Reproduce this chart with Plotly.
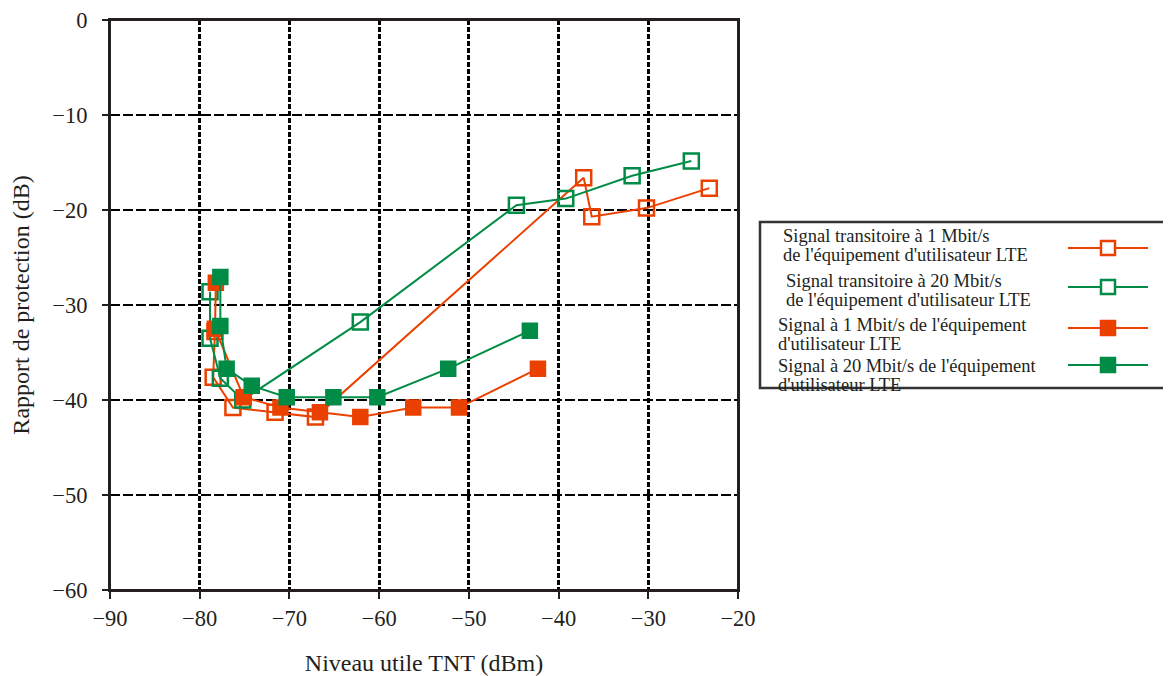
import plotly.graph_objects as go

# ---------------- data ----------------
x_trans_1 = [-78.3, -78.5, -76.3, -71.6, -67.1, -37.2, -36.3, -30.2, -23.2]
y_trans_1 = [-32.8, -37.6, -40.8, -41.3, -41.8, -16.6, -20.7, -19.8, -17.7]

x_trans_20 = [-78.85, -78.85, -77.7, -75.2, -62.1, -44.7, -39.2, -31.8, -25.2]
y_trans_20 = [-28.6, -33.5, -37.7, -40.0, -31.8, -19.5, -18.8, -16.4, -14.85]

x_sig_1 = [-78.2, -78.3, -75.1, -71.0, -66.6, -62.1, -56.2, -51.1, -42.3]
y_sig_1 = [-27.65, -32.5, -39.7, -40.8, -41.3, -41.8, -40.8, -40.8, -36.7]

x_sig_20 = [-77.7, -77.7, -77.0, -74.2, -70.3, -65.1, -60.2, -52.3, -43.2]
y_sig_20 = [-27.05, -32.2, -36.7, -38.5, -39.7, -39.7, -39.7, -36.7, -32.7]

legend_labels = [
    ["Signal transitoire à 1 Mbit/s", "de l'équipement d'utilisateur LTE"],
    ["Signal transitoire à 20 Mbit/s", "de l'équipement d'utilisateur LTE"],
    ["Signal à 1 Mbit/s de l'équipement", "d'utilisateur LTE"],
    ["Signal à 20 Mbit/s de l'équipement", "d'utilisateur LTE"],
]

x_ticks = [-90, -80, -70, -60, -50, -40, -30, -20]
y_ticks = [0, -10, -20, -30, -40, -50, -60]

ORANGE = "#EB4100"
GREEN = "#008C46"
INK = "#231F20"
FONT = "Liberation Serif"

# the page body has an 8px margin, so the figure is drawn 8px smaller and shifted
OFF = 8
W, H = 1171 - OFF, 676 - OFF
L, T = 110 - OFF, 20 - OFF
R = W - (738 - OFF)
B = H - (590 - OFF)

fig = go.Figure()

series = [
    (x_trans_1, y_trans_1, ORANGE, "square-open", 15),
    (x_trans_20, y_trans_20, GREEN, "square-open", 15),
    (x_sig_1, y_sig_1, ORANGE, "square", 14),
    (x_sig_20, y_sig_20, GREEN, "square", 14),
]
for (xs, ys, col, sym, sz), lab in zip(series, legend_labels):
    fig.add_trace(go.Scatter(
        x=xs, y=ys, mode="lines+markers", name=" ".join(lab),
        line=dict(color=col, width=2),
        marker=dict(symbol=sym, size=sz, color=col,
                    line=dict(color=col, width=2.5)),
        showlegend=False, cliponaxis=False,
    ))

fig.update_layout(
    width=W, height=H,
    margin=dict(l=L, r=R, t=T, b=B, pad=0, autoexpand=False),
    paper_bgcolor="white", plot_bgcolor="white",
    font=dict(family=FONT, size=22, color=INK),
    showlegend=False,
)
fig.update_xaxes(
    range=[-90, -20], tickvals=x_ticks, automargin=False,
    showline=True, linecolor=INK, linewidth=2, mirror=True,
    ticks="outside", ticklen=7, tickwidth=2, tickcolor=INK,
    showgrid=True, gridcolor="black", gridwidth=3, griddash="5px,2px",
    zeroline=False, ticklabeloverflow="allow",
    title=dict(text="Niveau utile TNT (dBm)", standoff=24,
               font=dict(family=FONT, size=24)),
    tickfont=dict(family=FONT, size=22.5),
)
fig.update_yaxes(
    range=[-60, 0], tickvals=y_ticks, automargin=False,
    showline=True, linecolor=INK, linewidth=2, mirror=True,
    ticks="outside", ticklen=6, tickwidth=2, tickcolor=INK,
    showgrid=True, gridcolor="black", gridwidth=2, griddash="10px,3px",
    zeroline=False, ticklabeloverflow="allow", ticklabelstandoff=10,
    title=dict(text="Rapport de protection (dB)", standoff=22,
               font=dict(family=FONT, size=24)),
    tickfont=dict(family=FONT, size=22.5),
)

# plot frame (so the top edge is always drawn)
fig.add_shape(type="rect", xref="x domain", yref="y domain",
              x0=0, x1=1, y0=0, y1=1, layer="above",
              line=dict(color=INK, width=2), fillcolor="rgba(0,0,0,0)")

# ---------------- custom legend (symbols on the right) ----------------
def px_to_paper_x(px):
    return (px - OFF - L) / (W - L - R)

def px_to_paper_y(py):
    return (H - B - (py - OFF)) / (H - T - B)

fig.add_shape(type="rect", xref="paper", yref="paper",
              x0=px_to_paper_x(760), x1=px_to_paper_x(1185),
              y0=px_to_paper_y(388), y1=px_to_paper_y(222),
              line=dict(color="#333333", width=2.5), fillcolor="rgba(0,0,0,0)")

legend_text_x = [782, 785, 777, 777]
legend_text_y = [(236, 255), (281, 300), (325, 344), (366, 385)]
legend_sym_y = [248, 287, 328, 365]
for i, ((xs, ys, col, sym, sz), lab) in enumerate(zip(series, legend_labels)):
    for line_txt, ty in zip(lab, legend_text_y[i]):
        fig.add_annotation(xref="paper", yref="paper",
                           x=px_to_paper_x(legend_text_x[i]), y=px_to_paper_y(ty),
                           xanchor="left", yanchor="middle", showarrow=False,
                           borderpad=0,
                           text=line_txt, font=dict(family=FONT, size=18.5, color=INK))
    sy = px_to_paper_y(legend_sym_y[i])
    fig.add_shape(type="line", xref="paper", yref="paper",
                  x0=px_to_paper_x(1068), x1=px_to_paper_x(1148), y0=sy, y1=sy,
                  line=dict(color=col, width=2))
    filled = not sym.endswith("open")
    fig.add_shape(type="rect", xref="paper", yref="paper",
                  xsizemode="pixel", ysizemode="pixel",
                  xanchor=px_to_paper_x(1108), yanchor=sy,
                  x0=-7, x1=7, y0=-7, y1=7,
                  line=dict(color=col, width=2.5),
                  fillcolor=col if filled else "white")

fig.write_html("out.html")
